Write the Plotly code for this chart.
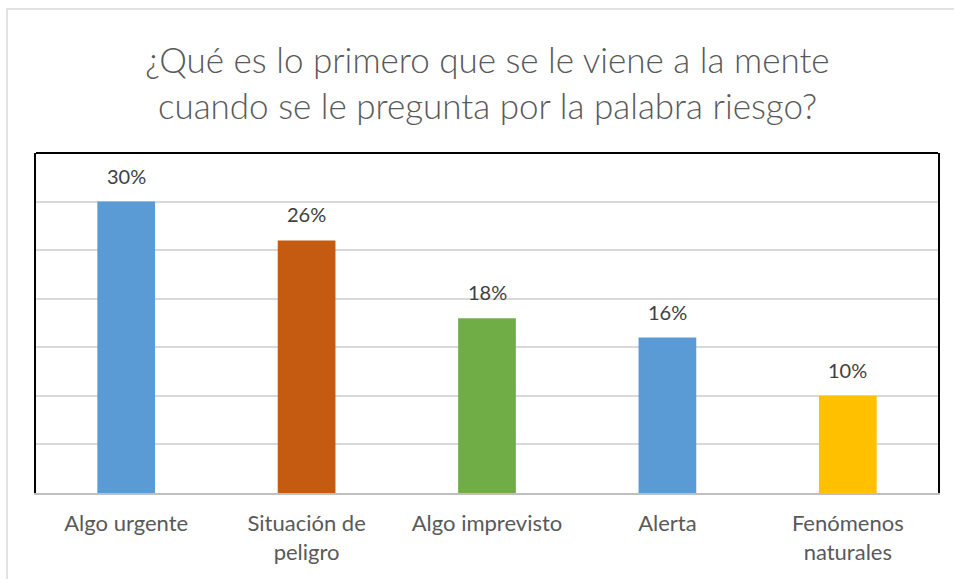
import plotly.graph_objects as go

categories = ["Algo urgente", "Situación de<br>peligro", "Algo imprevisto", "Alerta", "Fenómenos<br>naturales"]
shares = [0.30, 0.26, 0.18, 0.16, 0.10]
bar_colors = ["#5B9BD5", "#C55A11", "#70AD47", "#5B9BD5", "#FFC000"]

FONT = "Lato, Open Sans, sans-serif"
TEXT = "#595959"

fig = go.Figure()
fig.add_trace(go.Bar(
    x=categories, y=shares, marker={"color": bar_colors, "line": {"width": 0}},
    hoverinfo="skip", showlegend=False,
))

# data labels sit a little above each bar, as in the spreadsheet original
for cat, val in zip(categories, shares):
    fig.add_annotation(
        x=cat, y=val, text=f"{val:.0%}", showarrow=False,
        yanchor="bottom", yshift=12,
        font={"family": FONT, "size": 20, "color": "#404040"},
    )

fig.update_layout(
    width=954, height=579,
    paper_bgcolor="white", plot_bgcolor="white",
    font={"family": FONT, "color": TEXT},
    title={
        "text": "¿Qué es lo primero que se le viene a la mente<br>cuando se le pregunta por la palabra riesgo?",
        "x": 0.511, "xanchor": "center", "y": 1 - 73 / 579, "yanchor": "top",
        "font": {"family": FONT, "size": 35, "color": TEXT, "weight": 300},
    },
    margin={"l": 36, "r": 16, "t": 153, "b": 86},
    bargap=0.68,
    xaxis={
        "showline": True, "linecolor": "#BFBFBF", "linewidth": 2,
        "tickfont": {"family": FONT, "size": 22, "color": TEXT},
        "ticks": "", "showgrid": False, "ticklabelstandoff": 10,
    },
    yaxis={
        "range": [0, 0.35], "dtick": 0.05, "showticklabels": False,
        "gridcolor": "#D9D9D9", "gridwidth": 1.5, "zeroline": False,
        "showline": True, "linecolor": "black", "linewidth": 2, "mirror": True,
    },
    shapes=[
        {"type": "line", "xref": "paper", "yref": "paper", "x0": 0, "x1": 1, "y0": 1, "y1": 1,
         "line": {"color": "black", "width": 2}},
        {"type": "rect", "xref": "paper", "yref": "paper",
         "x0": -29 / 902, "x1": 1.2, "y0": -0.5, "y1": 1 + 144 / 340,
         "line": {"color": "#D9D9D9", "width": 1.5}, "layer": "below"},
    ],
)

fig.write_html("out.html", config={"displayModeBar": False},
               post_script="document.body.style.margin='0';")
